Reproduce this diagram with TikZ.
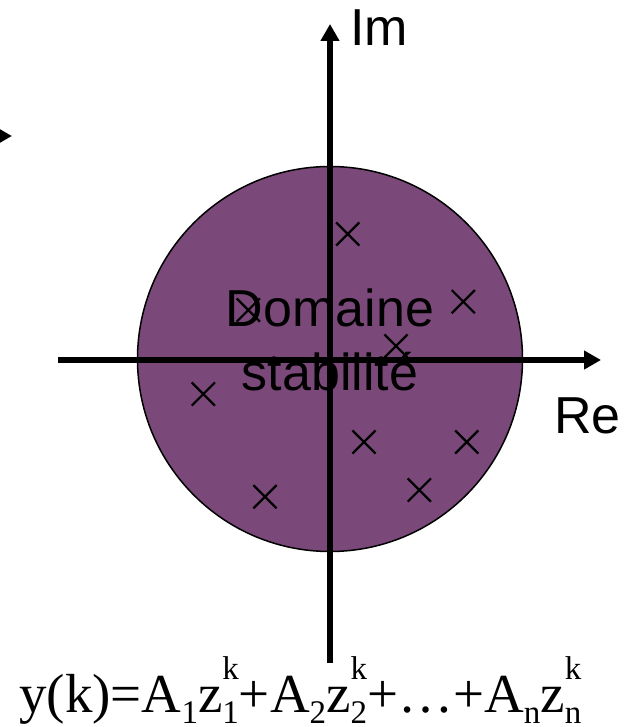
\documentclass[tikz,border=0pt]{standalone}
\usepackage{fontspec}
\setmainfont{Liberation Serif}
\newfontfamily\arialfont{Liberation Sans}
\usetikzlibrary{arrows.meta,shapes.misc}
\definecolor{diskpurple}{RGB}{122,73,121}
\newcommand\lowsub[1]{\raisebox{-11pt}{\fontsize{33}{33}\selectfont #1}}
\newcommand\zsupsub[2]{\rlap{\lowsub{#1}}\raisebox{33pt}{\fontsize{33}{33}\selectfont #2}}
\tikzset{
  axis/.style={line width=5.5pt,-{Triangle[length=17pt,width=18pt]}},
  pole/.style={cross out,draw,line width=2.2pt,minimum size=21pt,inner sep=0pt},
  sanslabel/.style={font=\arialfont\fontsize{52}{64}\selectfont,inner sep=0pt},
}
\begin{document}
\begin{tikzpicture}[x=1pt,y=-1pt]
\useasboundingbox (0,0) rectangle (625,727);
% stability disk
\node[circle,fill=diskpurple,draw=black,line width=1.5pt,minimum size=385pt,inner sep=0pt] (disk) at (330,359) {};
% axes
\coordinate (xstart) at (58,360);
\coordinate (xend) at (601,360);
\coordinate (ystart) at (330,663);
\coordinate (yend) at (330,24);
\draw[axis] (xstart) -- (xend);
\draw[axis] (ystart) -- (yend);
% arrow entering from the left edge
\coordinate (lstart) at (-60,136);
\coordinate (lend) at (12,136);
\draw[axis] (lstart) -- (lend);
% labels
\node[sanslabel,anchor=base west] (im) at (350,46) {Im};
\node[sanslabel,anchor=base west] (re) at (554,433) {Re};
\node[sanslabel,align=center] (dom) at (330,340) {Domaine\\stabilité};
% poles
\node[pole] (p1) at (347.7,234) {};
\node[pole] (p2) at (463.3,301.7) {};
\node[pole] (p3) at (248.3,310) {};
\node[pole] (p4) at (396,346) {};
\node[pole] (p5) at (203.3,394) {};
\node[pole] (p6) at (364,442) {};
\node[pole] (p7) at (466.7,442) {};
\node[pole] (p8) at (265,496.7) {};
\node[pole] (p9) at (419.3,490) {};
% formula
\node[anchor=base west,inner sep=0pt,font=\fontsize{55}{55}\selectfont] (formula) at (19,712)
  {y(k)=A\lowsub{1}z\zsupsub{1}{k}+A\lowsub{2}z\zsupsub{2}{k}+…+A\lowsub{n}z\zsupsub{n}{k}};
\end{tikzpicture}
\end{document}
